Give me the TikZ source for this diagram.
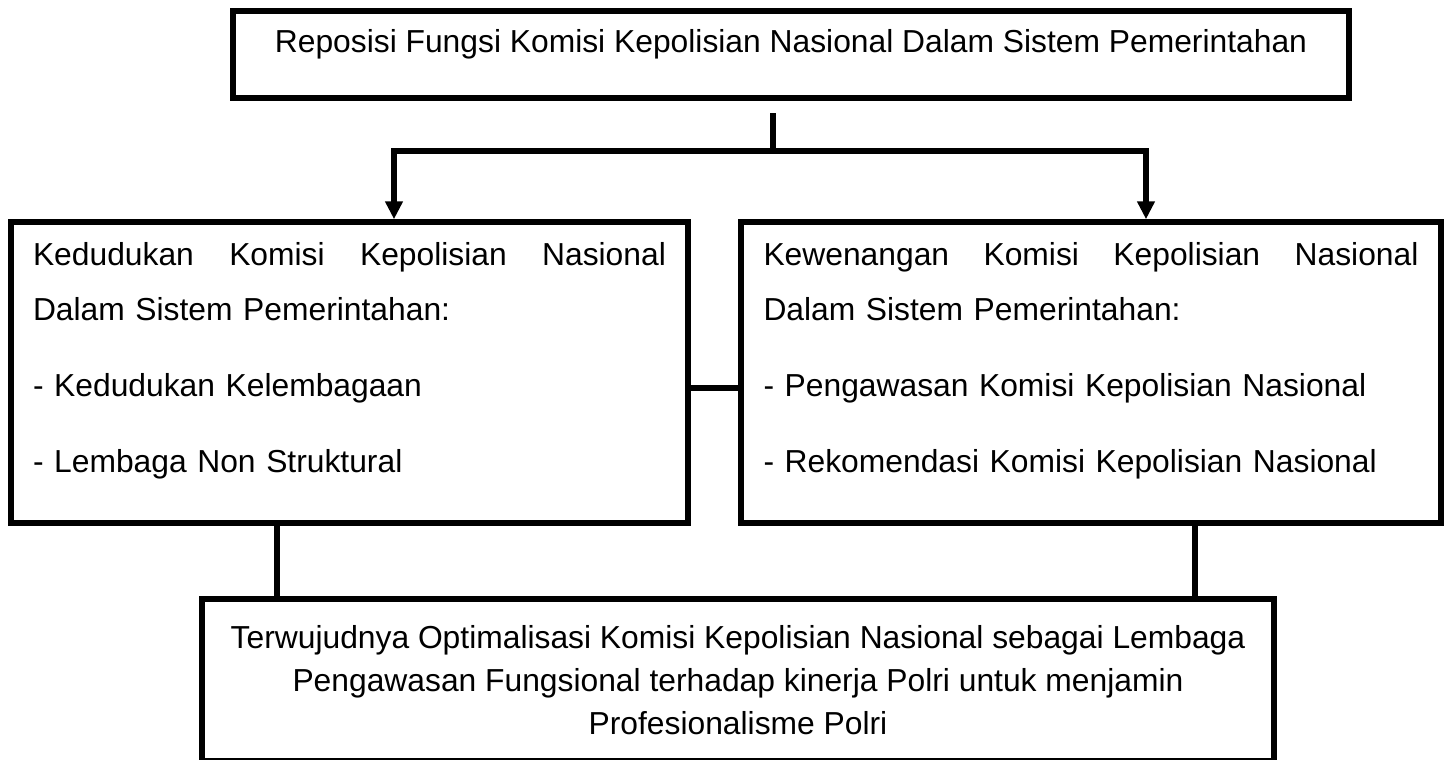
\documentclass[tikz,border=0pt]{standalone}
\usepackage{fontspec}
\setmainfont{Liberation Sans}
\usetikzlibrary{arrows.meta,positioning,calc}
\definecolor{kmpink}{HTML}{000000}
\tikzset{
  box/.style={draw=kmpink,line width=2.75pt,inner sep=0pt,font=\fontsize{15.9pt}{27.5pt}\selectfont},
  titlebox/.style={box,minimum width=558pt,minimum height=43.5pt,text height=11.5pt,text depth=13pt},
  sidebox/.style={box,minimum height=150.5pt,align=left,text height=11.5pt,text depth=119pt},
  goalbox/.style={box,minimum width=536pt,minimum height=81pt,align=center,font=\fontsize{15.9pt}{21.5pt}\selectfont},
  ln/.style={draw=kmpink,line width=2.75pt},
  ar/.style={ln,-{Triangle[length=9pt,width=8.5pt]}},
}
\begin{document}
\begin{tikzpicture}[x=0.5pt,y=-0.5pt]
  \useasboundingbox (0,0) rectangle (1448,760);
  \node[titlebox] (reposisi) at (791,54.5) {Reposisi Fungsi Komisi Kepolisian Nasional Dalam Sistem Pemerintahan};
  \node[sidebox,minimum width=338.5pt,text width=316.5pt] (kedudukan) at (349.5,372.5) {Kedudukan\hfill Komisi\hfill Kepolisian\hfill Nasional\\
    Dalam Sistem Pemerintahan:\\[10.5pt]
    - Kedudukan Kelembagaan\\[10.5pt]
    - Lembaga Non Struktural};
  \node[sidebox,minimum width=350pt,text width=327.5pt] (kewenangan) at (1091,372.5) {Kewenangan\hfill Komisi\hfill Kepolisian\hfill Nasional\\
    Dalam Sistem Pemerintahan:\\[10.5pt]
    - Pengawasan Komisi Kepolisian Nasional\\[10.5pt]
    - Rekomendasi Komisi Kepolisian Nasional};
  \node[goalbox] (hasil) at (738,680) {Terwujudnya Optimalisasi Komisi Kepolisian Nasional sebagai Lembaga\\
    Pengawasan Fungsional terhadap kinerja Polri untuk menjamin\\
    Profesionalisme Polri};
  \coordinate (fork) at (773,151);
  \draw[ln] (fork) -- ++(0,-38);
  \draw[ar] (fork) -| ([xshift=22.25pt]kedudukan.north);
  \draw[ar] (fork) -| ([xshift=27.5pt]kewenangan.north);
  \draw[ln] ([yshift=-7.75pt]kedudukan.east) -- ([yshift=-7.75pt]kewenangan.west);
  \draw[ln] ([xshift=-36.25pt]kedudukan.south) -- ([xshift=-36.25pt]kedudukan.south |- hasil.north);
  \draw[ln] ([xshift=52pt]kewenangan.south) -- ([xshift=52pt]kewenangan.south |- hasil.north);
\end{tikzpicture}
\end{document}
